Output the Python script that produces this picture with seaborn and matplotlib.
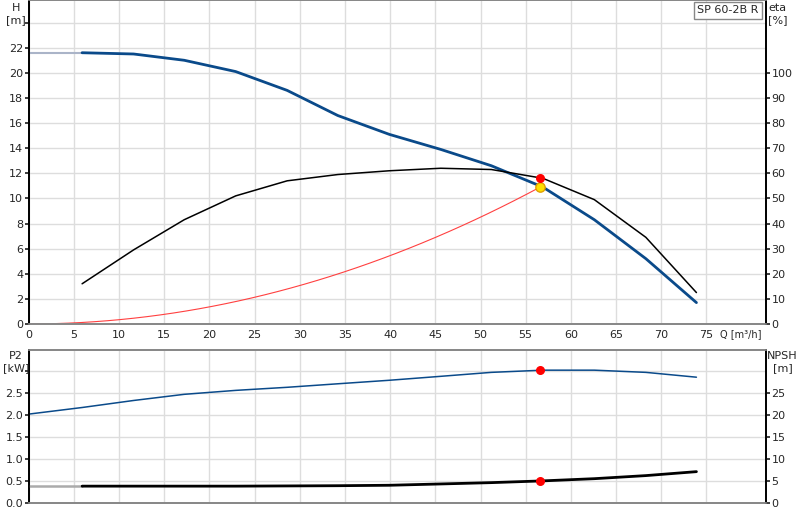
import matplotlib
matplotlib.use("Agg")
import matplotlib.pyplot as plt
import seaborn as sns
import numpy as np

sns.set_theme(style="white")
plt.rcParams['font.family'] = ['DejaVu Sans']

q = [5.9, 11.6, 17.2, 22.9, 28.6, 34.2, 39.9, 45.6, 51.2, 56.9, 62.6, 68.3, 73.9]
head = [21.6, 21.5, 21.0, 20.1, 18.6, 16.6, 15.1, 13.9, 12.6, 10.9, 8.3, 5.2, 1.7]
eta = [16, 29.5, 41.5, 51, 57, 59.5, 61, 62, 61.5, 58, 49.5, 34.5, 12.5]
p2_q = [0, 5.9, 11.6, 17.2, 22.9, 28.6, 34.2, 39.9, 45.6, 51.2, 56.9, 62.6, 68.3, 73.9]
p2 = [2.02, 2.17, 2.33, 2.47, 2.56, 2.63, 2.71, 2.79, 2.88, 2.97, 3.02, 3.02, 2.97, 2.86]
npsh = [3.8, 3.8, 3.8, 3.8, 3.8, 3.85, 3.9, 4.0, 4.3, 4.6, 5.0, 5.5, 6.2, 7.1]
duty_q, duty_h, duty_eta, duty_p2, duty_npsh = 56.6, 10.9, 58.0, 3.02, 5.0
sys_q = list(np.linspace(0, duty_q, 40))
sys_h = [duty_h * (x / duty_q) ** 2 for x in sys_q]

blue = "#0a4a8a"
grid = "#dddddd"
xmax = 81.6
fig = plt.figure(figsize=(8, 5.2), dpi=100)
ax = fig.add_axes([0.036, 0.377, 0.9215, 0.623])
ax2 = ax.twinx()
bx = fig.add_axes([0.036, 0.033, 0.9215, 0.294])
bx2 = bx.twinx()

for a in (ax, bx):
    a.set_xlim(0, xmax)
    a.set_xticks(range(0, 80, 5))
    a.grid(True, color=grid, lw=1)
    a.tick_params(labelsize=8, length=3, pad=1)
ax.set_ylim(0, 25.8)
ax.set_yticks(range(0, 25, 2))
ax.set_yticklabels([str(v) for v in range(0, 23, 2)] + [""])
ax2.set_ylim(0, 129)
ax2.set_yticks(range(0, 101, 10))
ax2.tick_params(labelsize=8, length=3, pad=1)
bx.set_ylim(0, 3.48)
bx.set_yticks(np.arange(0, 3.01, 0.5))
bx.set_yticklabels([f"{v:.1f}" for v in np.arange(0, 2.51, 0.5)] + [""])
bx.set_xticklabels([])
bx2.set_ylim(0, 34.8)
bx2.set_yticks(range(0, 26, 5))
bx2.tick_params(labelsize=8, length=3, pad=1)

ax.plot([0, q[0]], [21.6, 21.6], color="#aab4c8", lw=1.5)
sns.lineplot(x=q, y=head, ax=ax, color=blue, lw=2)
sns.lineplot(x=sys_q, y=sys_h, ax=ax, color="#ff4040", lw=0.8)
sns.lineplot(x=q, y=eta, ax=ax2, color="black", lw=1.1)
ax2.scatter([duty_q], [duty_eta], color="red", s=30, zorder=5)
ax.scatter([duty_q], [duty_h], color="#ffe000", edgecolor="#e0a000", s=45, zorder=6)

sns.lineplot(x=p2_q, y=p2, ax=bx, color=blue, lw=1.1)
bx.scatter([duty_q], [duty_p2], color="red", s=30, zorder=5)
bx2.plot([0, q[0]], [3.8, 3.8], color="#aaaaaa", lw=1.8)
sns.lineplot(x=p2_q[1:], y=npsh[1:], ax=bx2, color="black", lw=2)
bx2.scatter([duty_q], [duty_npsh], color="red", s=30, zorder=5)

for a in (ax, ax2, bx, bx2):
    a.set_xlabel(""); a.set_ylabel("")
    for s in a.spines.values():
        s.set_color("#888888")
    a.spines["left"].set_color("black")
    a.spines["right"].set_color("black")

fig.text(0.02, 0.995, "H\n[m]", ha="center", va="top", fontsize=8, linespacing=1.3)
fig.text(0.972, 0.995, "eta\n[%]", ha="center", va="top", fontsize=8, linespacing=1.3)
fig.text(0.02, 0.325, "P2\n[kW]", ha="center", va="top", fontsize=8, linespacing=1.3)
fig.text(0.978, 0.325, "NPSH\n[m]", ha="center", va="top", fontsize=8, linespacing=1.3)
fig.text(0.9, 0.358, "Q [m³/h]", ha="left", va="center", fontsize=7)
fig.text(0.948, 0.99, "SP 60-2B R", ha="right", va="top", fontsize=8,
         bbox=dict(facecolor="white", edgecolor="#888888", boxstyle="square,pad=0.3"))

fig.savefig("out.png", dpi=100)
